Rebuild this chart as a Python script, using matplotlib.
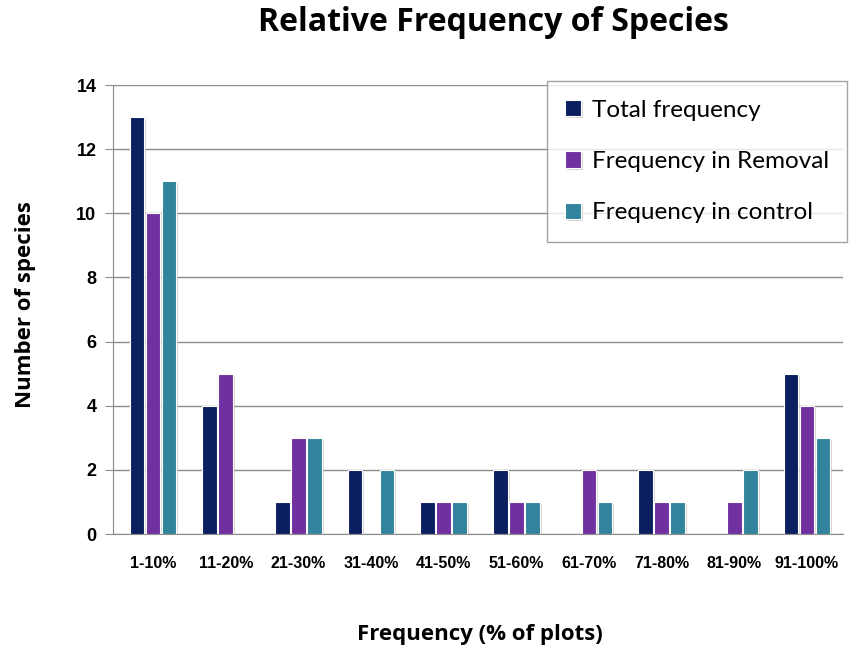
import matplotlib
matplotlib.use("Agg")
import matplotlib.pyplot as plt
import matplotlib.patheffects as pe
import numpy as np

# data
categories = ["1-10%", "11-20%", "21-30%", "31-40%", "41-50%",
              "51-60%", "61-70%", "71-80%", "81-90%", "91-100%"]
total_freq = [13, 4, 1, 2, 1, 2, 0, 2, 0, 5]
removal_freq = [10, 5, 3, 0, 1, 1, 2, 1, 1, 4]
control_freq = [11, 0, 3, 2, 1, 1, 1, 1, 2, 3]

series = [
    ("Total frequency", total_freq, "#0B1F5E"),
    ("Frequency in Removal", removal_freq, "#7030A0"),
    ("Frequency in control", control_freq, "#31849B"),
]

fig = plt.figure(figsize=(8.57, 6.49), dpi=100)
ax = fig.add_axes([0.132, 0.177, 0.852, 0.692])

x = np.arange(len(categories))
width = 0.2
step = 0.22
shadow = [pe.SimplePatchShadow(offset=(1.5, -1.5), shadow_rgbFace="#bbbbbb", alpha=0.6), pe.Normal()]
for i, (name, vals, col) in enumerate(series):
    bars = ax.bar(x + (i - 1) * step, vals, width, color=col, label=name,
                  edgecolor="white", linewidth=0.8, zorder=3)
    for b in bars:
        b.set_path_effects(shadow)

ax.set_xlim(-0.55, 9.5)
ax.set_ylim(0, 14)
ax.set_yticks(range(0, 15, 2))
ax.yaxis.grid(True, color="#8c8c8c", linewidth=1)
ax.set_axisbelow(True)
for s in ["top", "right"]:
    ax.spines[s].set_visible(False)
ax.spines["left"].set_color("#8c8c8c")
ax.spines["bottom"].set_color("#8c8c8c")
ax.tick_params(axis="y", length=6, color="#8c8c8c", pad=6)
ax.tick_params(axis="x", length=0, pad=16)
ax.set_xticks(x)
ax.set_xticklabels(categories, fontweight="bold", family="Liberation Sans", fontsize=11.5)
for t in ax.get_yticklabels():
    t.set_fontweight("bold")
    t.set_family("Liberation Sans")
    t.set_fontsize(13)

fig.text(0.576, 0.965, "Relative Frequency of Species", ha="center", va="center",
         fontsize=23, fontweight="bold", family="Open Sans")
fig.text(0.56, 0.023, "Frequency (% of plots)", ha="center", va="center",
         fontsize=16, fontweight="bold", family="Open Sans")
fig.text(0.03, 0.53, "Number of species", ha="center", va="center", rotation=90,
         fontsize=16, fontweight="bold", family="Open Sans")

leg = ax.legend(loc="upper right", bbox_to_anchor=(1.005, 1.008), frameon=True, fancybox=False,
                prop={"family": "Lato", "size": 17.5}, handlelength=0.65, handleheight=0.65,
                handletextpad=0.45, labelspacing=1.25, borderpad=0.75, borderaxespad=0)
leg.get_frame().set_edgecolor("#8c8c8c")
leg.get_frame().set_linewidth(1)

fig.savefig("out.png", dpi=100)
